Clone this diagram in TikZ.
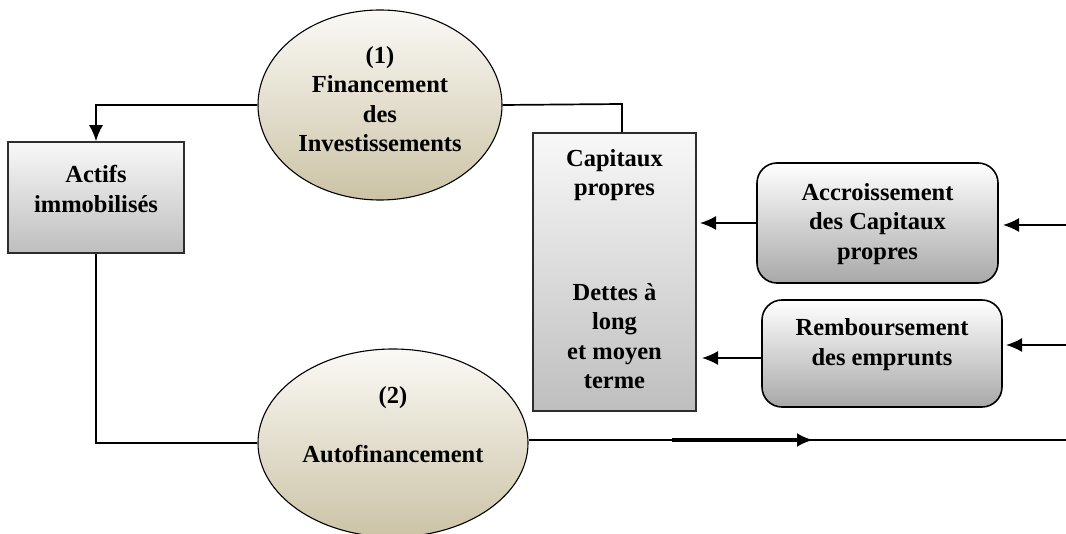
\documentclass[tikz,border=0pt]{standalone}
\usepackage{fontspec}
\setmainfont{Liberation Serif}
\usetikzlibrary{shapes.geometric,arrows.meta,calc}

\definecolor{ovaltop}{RGB}{250,249,245}
\definecolor{ovalbot}{RGB}{204,195,166}
\definecolor{boxtop}{RGB}{248,248,248}
\definecolor{boxbot}{RGB}{190,190,190}
\definecolor{rboxbot}{RGB}{168,168,168}
\definecolor{edge}{RGB}{45,45,45}

\begin{document}
\begin{tikzpicture}[x=1pt,y=1pt,
  txt/.style={font=\fontsize{24.5}{29.5}\selectfont\bfseries, align=center, inner sep=0pt},
  oval/.style={ellipse, draw=black, line width=1.1pt, top color=ovaltop, bottom color=ovalbot, inner sep=0pt},
  sqbox/.style={rectangle, draw=edge, line width=1.6pt, top color=boxtop, bottom color=boxbot, inner sep=0pt},
  rbox/.style={rectangle, rounded corners=20pt, draw=black, line width=1.6pt, top color=white, bottom color=rboxbot, inner sep=0pt},
  link/.style={draw=black, line width=1.7pt},
  tip/.style={-{Latex[length=16pt,width=14pt]}},
  arr/.style={link, tip},
]
\useasboundingbox (0,0) rectangle (1066,-534);

% shapes
\node[oval, minimum width=244, minimum height=190] (fin) at (380,-105) {};
\node[oval, minimum width=270, minimum height=188] (auto) at (393,-443) {};
\node[sqbox, minimum width=176, minimum height=111] (actifs) at (96,-197.5) {};
\node[sqbox, minimum width=163, minimum height=278] (cap) at (614.5,-272) {};
\node[rbox, minimum width=241, minimum height=120] (accr) at (877.5,-223) {};
\node[rbox, minimum width=240, minimum height=107] (remb) at (882,-353.5) {};

% texts
\node[txt] (finT) at (380,-99) {(1)\\Financement\\des\\Investissements};
\node[txt] (autoT) at (393,-425) {(2)\\[29.5pt]Autofinancement};
\node[txt] (actifsT) at (96,-189) {Actifs\\immobilisés};
\node[txt] (capT) at (614.5,-175) {Capitaux\\propres};
\node[txt] (detT) at (614.5,-336) {Dettes à\\long\\et moyen\\terme};
\node[txt] (accrT) at (877.5,-224) {Accroissement\\des Capitaux\\propres};
\node[txt] (rembT) at (882,-344.5) {Remboursement\\des emprunts};

% connector ends
\coordinate (capTop) at (622,-104);
\coordinate (capIn1) at (700,-223);
\coordinate (capIn2) at (702,-358);
\coordinate (rightA) at (1066,-225);
\coordinate (accrIn) at (1003,-225);
\coordinate (rightB) at (1066,-345);
\coordinate (rembIn) at (1006,-345);
\coordinate (outEnd) at (1066,-440);
\coordinate (thickA) at (672,-440);
\coordinate (thickB) at (813,-440);

% connectors
\draw[arr] (fin.west) -| (actifs.north);
\draw[link] (fin.east) -- (capTop) -- (capTop |- cap.north);
\draw[link] (actifs.south) |- (auto.west);
\draw[link] (auto.east |- outEnd) -- (outEnd);
\draw[draw=black, line width=4.5pt, tip] (thickA) -- (thickB);
\draw[arr] (accr.west |- capIn1) -- (capIn1);
\draw[arr] (remb.west |- capIn2) -- (capIn2);
\draw[arr] (rightA) -- (accrIn);
\draw[arr] (rightB) -- (rembIn);
\end{tikzpicture}
\end{document}
